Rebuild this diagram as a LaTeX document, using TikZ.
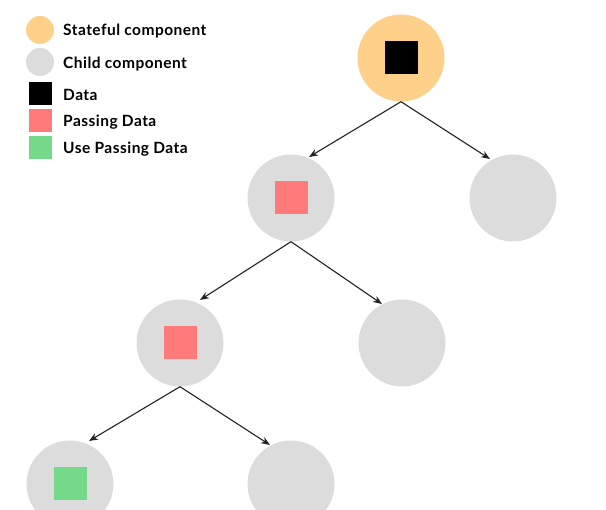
\documentclass[tikz,border=0pt]{standalone}
\usepackage{fontspec}
\setmainfont{Lato}[LetterSpace=3]
\usetikzlibrary{arrows.meta}
\definecolor{stateful}{HTML}{FFD08A}
\definecolor{child}{HTML}{DCDCDC}
\definecolor{passing}{HTML}{FF7B7B}
\definecolor{usepass}{HTML}{75D98A}
\definecolor{arrowc}{HTML}{222222}
\begin{document}
\begin{tikzpicture}[x=1pt,y=-1pt,
  comp/.style={circle,inner sep=0pt,minimum size=87pt},
  statebox/.style={comp,fill=stateful},
  childbox/.style={comp,fill=child},
  datasq/.style={inner sep=0pt,minimum size=33pt},
  legc/.style={circle,inner sep=0pt,minimum size=28pt},
  legs/.style={inner sep=0pt,minimum size=23pt},
  legt/.style={anchor=west,inner sep=0pt,font=\fontsize{15.5}{18}\selectfont\bfseries},
  link/.style={draw=arrowc,line width=1.1pt,-{Stealth[length=9pt,width=7pt]}}]
\useasboundingbox (0,0) rectangle (606,510);
\clip (0,0) rectangle (606,510);
% legend
\node[legc,fill=stateful] (l1) at (40,30) {};
\node[legc,fill=child] (l2) at (40,62) {};
\node[legs,fill=black] (l3) at (40,94) {};
\node[legs,fill=passing] (l4) at (40,121) {};
\node[legs,fill=usepass] (l5) at (40,148) {};
\node[legt] (t1) at (63,31) {Stateful component};
\node[legt] (t2) at (63,64) {Child component};
\node[legt] (t3) at (63,95) {Data};
\node[legt] (t4) at (63,122) {Passing Data};
\node[legt] (t5) at (63,149) {Use Passing Data};
% tree
\node[statebox] (r) at (401,58) {};
\node[datasq,fill=black] (rd) at (401,58) {};
\node[childbox] (a) at (291,198) {};
\node[datasq,fill=passing] (ad) at (291,198) {};
\node[childbox] (b) at (513,198) {};
\node[childbox] (c) at (180,343) {};
\node[datasq,fill=passing] (cd) at (180,343) {};
\node[childbox] (d) at (402,343) {};
\node[childbox] (e) at (70,484) {};
\node[datasq,fill=usepass] (ed) at (70,484) {};
\node[childbox] (f) at (291,484) {};
% arrow ends
\coordinate (ea) at (309,157);
\coordinate (eb) at (490,159);
\coordinate (ec) at (200,300);
\coordinate (ed2) at (382,304);
\coordinate (ee) at (89,441);
\coordinate (ef) at (270,445);
\draw[link] (r.south) -- (ea);
\draw[link] (r.south) -- (eb);
\draw[link] (a.south) -- (ec);
\draw[link] (a.south) -- (ed2);
\draw[link] (c.south) -- (ee);
\draw[link] (c.south) -- (ef);
\end{tikzpicture}
\end{document}
